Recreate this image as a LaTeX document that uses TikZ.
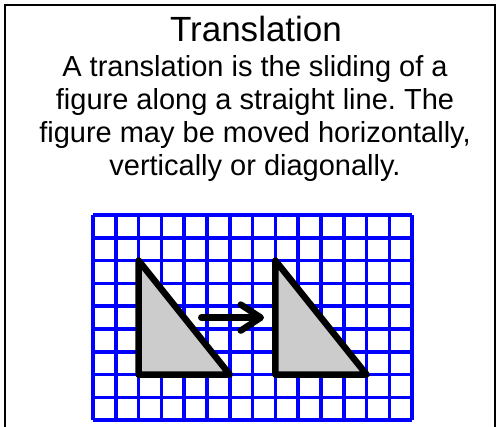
\documentclass[tikz,border=0pt]{standalone}
\usepackage{fontspec}
\setmainfont{Liberation Sans}
\frenchspacing
\usetikzlibrary{arrows.meta,positioning}
\definecolor{gridblue}{HTML}{0000FF}
\definecolor{shade}{HTML}{CCCCCC}
\tikzset{>=Latex,
  frame/.style={draw=black,line width=2pt},
  gridline/.style={draw=gridblue,line width=3.5pt},
  figure/.style={draw=black,fill=shade,line width=6.5pt,line join=round,line cap=round},
  slide/.style={draw=black,line width=6.5pt,line cap=round,
    -{Straight Barb[length=20pt,width=26pt,round]}},
  titletext/.style={font=\fontsize{35}{40}\selectfont,inner sep=0pt},
  bodytext/.style={font=\fontsize{29}{33}\selectfont,align=center,inner sep=0pt}}

\begin{document}
\begin{tikzpicture}[x=1pt,y=-1pt]
\path[use as bounding box] (0,0) rectangle (497,427);
\begin{scope}
\clip (0,0) rectangle (497,427);
\draw[frame] (4.5,5.5) rectangle (495,440);
\end{scope}
\node[titletext,anchor=base] (title) at (256,42) {Translation};
\node[bodytext,anchor=base] (body) at (255,176) {A translation is the sliding of a\\
  figure along a straight line. The\\
  figure may be moved horizontally,\\
  vertically or diagonally.};
% grid with the two triangles
\begin{scope}[shift={(93,215)},x=22.8pt,y=-22.8pt]
\foreach \i in {0,...,14} \draw[gridline] (\i,0)--(\i,9);
\foreach \j in {0,...,9} \draw[gridline] (0,\j)--(14,\j);
\draw[figure] (2,2)--(2,7)--(6,7)--cycle;
\draw[figure] (8,2)--(8,7)--(12,7)--cycle;
\coordinate (from) at (4.75,4.5);
\coordinate (to) at (7.5,4.5);
\draw[slide] (from)--(to);
\end{scope}
\end{tikzpicture}
\end{document}
